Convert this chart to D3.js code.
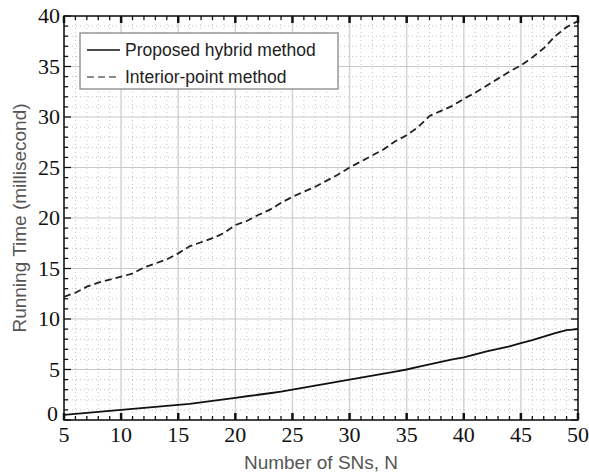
<!DOCTYPE html>
<html>
<head>
<meta charset="UTF-8">
<style>
html, body { margin: 0; padding: 0; background: #fff; }
</style>
</head>
<body>
<script src="https://d3js.org/d3.v7.min.js"></script>
<script>
const W = 589, H = 476;
const margin = {top: 16, left: 64, bottom: 56, right: 11};
const width = W - margin.left - margin.right;
const height = H - margin.top - margin.bottom;

const nValues = [5, 6, 7, 8, 9, 10, 11, 12, 13, 14, 15, 16, 17, 18, 19, 20, 21, 22, 23, 24, 25, 26, 27,
    28, 29, 30, 31, 32, 33, 34, 35, 36, 37, 38, 39, 40, 41, 42, 43, 44, 45, 46, 47, 48, 49, 50];
const hybridTime = [0.5, 0.6, 0.7, 0.8, 0.9, 1.0, 1.1, 1.2, 1.3, 1.4, 1.5, 1.6, 1.75, 1.9, 2.05, 2.2,
    2.35, 2.5, 2.65, 2.8, 3.0, 3.2, 3.4, 3.6, 3.8, 4.0, 4.2, 4.4, 4.6, 4.8, 5.0, 5.25, 5.5, 5.75, 6.0,
    6.2, 6.5, 6.8, 7.05, 7.3, 7.6, 7.9, 8.25, 8.6, 8.9, 9.0];
const interiorTime = [12.2, 12.6, 13.2, 13.6, 13.9, 14.2, 14.5, 15.1, 15.5, 15.9, 16.5, 17.2, 17.6,
    18.0, 18.5, 19.3, 19.7, 20.3, 20.8, 21.5, 22.1, 22.6, 23.1, 23.7, 24.3, 25.0, 25.6, 26.2, 26.8,
    27.6, 28.2, 29.0, 30.1, 30.6, 31.1, 31.8, 32.4, 33.1, 33.8, 34.5, 35.1, 35.9, 36.8, 38.0, 38.9, 39.5];
const xTicks = [5, 10, 15, 20, 25, 30, 35, 40, 45, 50];
const yTicks = [0, 5, 10, 15, 20, 25, 30, 35, 40];
const seriesNames = ["Proposed hybrid method", "Interior-point method"];

const svg = d3.select("body")
    .append("svg")
    .attr("width", W)
    .attr("height", H);

const g = svg.append("g")
    .attr("transform", `translate(${margin.left}, ${margin.top})`);

const x = d3.scaleLinear().domain([5, 50]).range([0, width]);
const y = d3.scaleLinear().domain([0, 40]).range([height, 0]);

const xMinor = d3.range(5, 51, 1);
const yMinor = d3.range(0, 41, 1);

// minor dotted grid
g.append("g")
    .selectAll("line")
    .data(xMinor.filter(d => d % 5 !== 0))
    .enter().append("line")
    .attr("x1", d => x(d)).attr("x2", d => x(d))
    .attr("y1", 0).attr("y2", height)
    .style("stroke", "#c4c4c4").style("stroke-width", 1).style("stroke-dasharray", "1,3");
g.append("g")
    .selectAll("line")
    .data(yMinor.filter(d => d % 5 !== 0))
    .enter().append("line")
    .attr("x1", 0).attr("x2", width)
    .attr("y1", d => y(d)).attr("y2", d => y(d))
    .style("stroke", "#c4c4c4").style("stroke-width", 1).style("stroke-dasharray", "1,3");

// major grid
g.append("g")
    .selectAll("line")
    .data(xTicks)
    .enter().append("line")
    .attr("x1", d => x(d)).attr("x2", d => x(d))
    .attr("y1", 0).attr("y2", height)
    .style("stroke", "#d4d4d4").style("stroke-width", 1.5);
g.append("g")
    .selectAll("line")
    .data(yTicks)
    .enter().append("line")
    .attr("x1", 0).attr("x2", width)
    .attr("y1", d => y(d)).attr("y2", d => y(d))
    .style("stroke", "#c8c8c8").style("stroke-width", 1.2);

// ticks on all four sides, pointing in
const tickG = g.append("g").style("stroke", "#111").style("stroke-width", 1.3);
xMinor.forEach(d => {
    const len = d % 5 === 0 ? 7 : 4;
    tickG.append("line").attr("x1", x(d)).attr("x2", x(d)).attr("y1", height).attr("y2", height - len)
        .style("stroke-width", d % 5 === 0 ? 2.5 : 1.3);
    tickG.append("line").attr("x1", x(d)).attr("x2", x(d)).attr("y1", 0).attr("y2", len)
        .style("stroke-width", d % 5 === 0 ? 2.5 : 1.3);
});
yMinor.forEach(d => {
    const len = d % 5 === 0 ? 7 : 4;
    tickG.append("line").attr("x1", 0).attr("x2", len).attr("y1", y(d)).attr("y2", y(d));
    tickG.append("line").attr("x1", width).attr("x2", width - len).attr("y1", y(d)).attr("y2", y(d));
});

// tick labels (serif, like the original)
g.append("g")
    .selectAll("text")
    .data(xTicks)
    .enter().append("text")
    .attr("x", d => x(d))
    .attr("y", height + 22)
    .attr("text-anchor", "middle")
    .style("font-family", "'Liberation Serif'")
    .style("font-size", "22px")
    .style("fill", "#111")
    .text(d => d);
g.append("g")
    .selectAll("text")
    .data(yTicks)
    .enter().append("text")
    .attr("x", d => d === 0 ? -6 : -4)
    .attr("y", d => y(d) + (d === 0 ? 1 : 7))
    .attr("text-anchor", "end")
    .style("font-family", "'Liberation Serif'")
    .style("font-size", "22px")
    .style("fill", "#111")
    .text(d => d);

// series
const line = d3.line()
    .x(d => x(d[0]))
    .y(d => y(d[1]));

g.append("path")
    .datum(nValues.map((n, i) => [n, hybridTime[i]]))
    .attr("d", line)
    .style("fill", "none")
    .style("stroke", "#111")
    .style("stroke-width", 1.8);

g.append("path")
    .datum(nValues.map((n, i) => [n, interiorTime[i]]))
    .attr("d", line)
    .style("fill", "none")
    .style("stroke", "#222")
    .style("stroke-width", 1.8)
    .style("stroke-dasharray", "7,4");

// frame
g.append("rect")
    .attr("width", width)
    .attr("height", height)
    .style("fill", "none")
    .style("stroke", "#111")
    .style("stroke-width", 1.5);

// legend
const legend = svg.append("g").attr("transform", "translate(80, 33)");
legend.append("rect")
    .attr("width", 258)
    .attr("height", 56)
    .style("fill", "#fff")
    .style("stroke", "#888")
    .style("stroke-width", 1.3);
seriesNames.forEach((name, i) => {
    const cy = 17 + i * 27;
    legend.append("line")
        .attr("x1", 7).attr("x2", 40)
        .attr("y1", cy).attr("y2", cy)
        .style("stroke", i === 0 ? "#111" : "#666")
        .style("stroke-width", 1.3)
        .style("stroke-dasharray", i === 0 ? null : "7,4");
    legend.append("text")
        .attr("x", 45)
        .attr("y", cy + 6)
        .style("font-family", "'Liberation Sans'")
        .style("font-size", "17.5px")
        .style("fill", "#222")
        .text(name);
});

// axis titles
svg.append("text")
    .attr("x", margin.left + width / 2)
    .attr("y", 469)
    .attr("text-anchor", "middle")
    .style("font-family", "'Liberation Sans'")
    .style("font-size", "19px")
    .style("fill", "#555")
    .text("Number of SNs, N");
svg.append("text")
    .attr("transform", `translate(26, ${margin.top + height / 2}) rotate(-90)`)
    .attr("text-anchor", "middle")
    .style("font-family", "'Liberation Sans'")
    .style("font-size", "19px")
    .style("fill", "#555")
    .text("Running Time (millisecond)");
</script>
</body>
</html>
